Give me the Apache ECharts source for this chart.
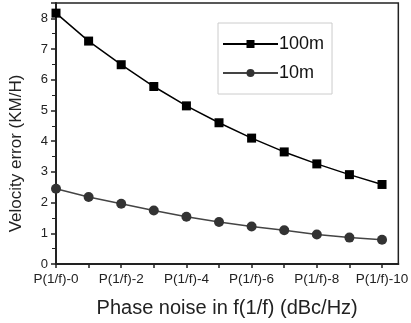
<!DOCTYPE html>
<html>
<head>
<meta charset="utf-8">
<script src="https://cdn.jsdelivr.net/npm/echarts@6/dist/echarts.min.js"></script>
<style>
  html, body { margin: 0; padding: 0; background: #fff; }
  #chart { width: 411px; height: 323px; }
</style>
</head>
<body>
<div id="chart"></div>
<script>
// x categories (phase noise levels)
const categories = ['P(1/f)-0', 'P(1/f)-1', 'P(1/f)-2', 'P(1/f)-3', 'P(1/f)-4', 'P(1/f)-5',
  'P(1/f)-6', 'P(1/f)-7', 'P(1/f)-8', 'P(1/f)-9', 'P(1/f)-10']
// velocity error, KM/H
const err100m = [8.17, 7.26, 6.49, 5.78, 5.15, 4.6, 4.1, 3.65, 3.26, 2.91, 2.59]
const err10m = [2.45, 2.18, 1.96, 1.74, 1.54, 1.37, 1.22, 1.1, 0.96, 0.86, 0.79]

const font = 'Liberation Sans, Arial, sans-serif'

function toPoints (vals) {
  return vals.map((v, i) => [i, v])
}

const chart = echarts.init(document.getElementById('chart'))
const option = {
  animation: false,
  grid: {
    left: 50,
    right: 12,
    top: 3,
    bottom: 58,
    show: true,
    borderColor: '#222',
    borderWidth: 1.5
  },
  legend: {
    left: 218,
    top: 23,
    orient: 'vertical',
    width: 120,
    padding: [12, 8, 12, 4],
    itemGap: 11,
    itemWidth: 55,
    itemHeight: 10,
    borderColor: '#ccc',
    borderWidth: 1,
    textStyle: { fontFamily: font, fontSize: 18, color: '#111', padding: [0, 0, 0, -4] },
    data: ['100m', '10m']
  },
  xAxis: {
    type: 'value',
    min: 0,
    max: 10.5,
    interval: 1,
    name: 'Phase noise in f(1/f) (dBc/Hz)',
    nameLocation: 'middle',
    nameGap: 34,
    nameTextStyle: { fontFamily: font, fontSize: 20, color: '#222' },
    axisLine: { lineStyle: { color: '#222', width: 2 } },
    axisTick: { show: true, length: 4, lineStyle: { color: '#222', width: 1.5 } },
    axisLabel: {
      fontFamily: font,
      fontSize: 13.5,
      color: '#222',
      margin: 8,
      showMaxLabel: false,
      formatter: function (v) {
        return (v % 2 === 0 && categories[v]) ? categories[v] : ''
      }
    },
    splitLine: { show: false }
  },
  yAxis: {
    type: 'value',
    min: 0,
    max: 8.5,
    interval: 1,
    name: 'Velocity error (KM/H)',
    nameLocation: 'middle',
    nameGap: 31,
    nameTextStyle: { fontFamily: font, fontSize: 17, color: '#222', padding: [0, 40, 0, 0] },
    axisLine: { show: true, lineStyle: { color: '#222', width: 2 } },
    axisTick: { show: true, length: 5, lineStyle: { color: '#222', width: 1.5 } },
    minorTick: { show: true, splitNumber: 2, length: 4, lineStyle: { color: '#222', width: 1 } },
    axisLabel: {
      fontFamily: font,
      fontSize: 13,
      color: '#222',
      margin: 8,
      showMaxLabel: false,
      formatter: function (v) {
        return Number.isInteger(v) ? String(v) : ''
      }
    },
    splitLine: { show: false }
  },
  series: [
    {
      name: '100m',
      type: 'line',
      data: toPoints(err100m),
      symbol: 'rect',
      symbolSize: 9,
      itemStyle: { color: '#000' },
      lineStyle: { color: '#000', width: 1.5 }
    },
    {
      name: '10m',
      type: 'line',
      data: toPoints(err10m),
      symbol: 'circle',
      symbolSize: 10,
      itemStyle: { color: '#333' },
      lineStyle: { color: '#444', width: 1.5 }
    }
  ]
}
chart.setOption(option)
</script>
</body>
</html>
